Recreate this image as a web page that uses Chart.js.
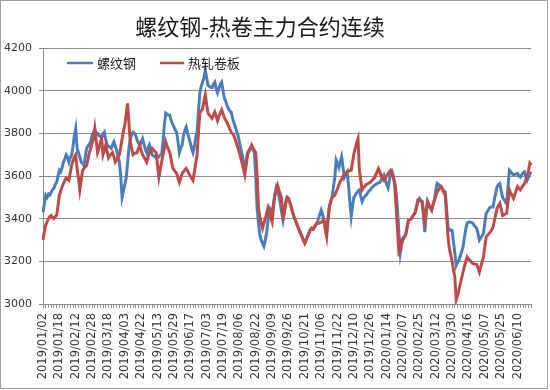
<!DOCTYPE html>
<html>
<head>
<meta charset="utf-8">
<script src="https://cdn.jsdelivr.net/npm/chart.js@4.4.1/dist/chart.umd.min.js"></script>
<style>
  body { margin: 0; background: #fff; }
  #wrap { width: 550px; height: 390px; }
</style>
</head>
<body>
<div id="wrap"><canvas id="steel-chart" width="550" height="390"></canvas></div>
<script>
  // 标题与图例
  const titleText = '螺纹钢-热卷主力合约连续';
  const seriesNames = ['螺纹钢', '热轧卷板'];

  // 交易日: 2019/01/02 - 2020/06/24, 除去周末和节假日
  const firstDay = '2019/01/02';
  const lastDay = '2020/06/24';
  const holidays = [
    '2019/01/01', '2019/02/04', '2019/02/05', '2019/02/06', '2019/02/07', '2019/02/08',
    '2019/04/05', '2019/05/01', '2019/05/02', '2019/05/03', '2019/06/07', '2019/09/13',
    '2019/10/01', '2019/10/02', '2019/10/03', '2019/10/04', '2019/10/07',
    '2020/01/01', '2020/01/24', '2020/01/27', '2020/01/28', '2020/01/29', '2020/01/30',
    '2020/01/31', '2020/04/06', '2020/05/01', '2020/05/04', '2020/05/05',
    '2020/06/25', '2020/06/26'
  ];

  // Y轴刻度
  const yTicks = [3000, 3200, 3400, 3600, 3800, 4000, 4200];
  // 每隔12个交易日显示一个日期
  const labelStep = 12;

  // 螺纹钢
  const rebar = [
    3430, 3470, 3510, 3500, 3515, 3510, 3525, 3535, 3543, 3560,
    3570, 3600, 3627, 3620, 3640, 3665, 3680, 3700, 3690, 3665,
    3685, 3700, 3740, 3790, 3823, 3730, 3710, 3690, 3665, 3660,
    3650, 3690, 3730, 3740, 3750, 3760, 3790, 3805, 3815, 3800,
    3800, 3790, 3785, 3780, 3795, 3805, 3770, 3745, 3740, 3735,
    3730, 3745, 3760, 3740, 3720, 3690, 3665, 3600, 3500, 3530,
    3560, 3590, 3660, 3730, 3770, 3795, 3805, 3800, 3790, 3770,
    3755, 3745, 3760, 3775, 3750, 3725, 3710, 3730, 3745, 3720,
    3700, 3695, 3690, 3685, 3685, 3690, 3700, 3700, 3760, 3840,
    3895, 3890, 3885, 3885, 3860, 3845, 3830, 3815, 3805, 3760,
    3710, 3730, 3745, 3790, 3815, 3830, 3800, 3780, 3755, 3730,
    3710, 3740, 3780, 3805, 3900, 3990, 4020, 4040, 4060, 4095,
    4060, 4025, 4020, 4015, 4015, 4030, 4040, 4010, 3990, 4010,
    4030, 4040, 4000, 3965, 3950, 3930, 3915, 3905, 3900, 3870,
    3850, 3830, 3810, 3790, 3760, 3730, 3700, 3665, 3635, 3670,
    3710, 3720, 3730, 3735, 3720, 3710, 3600, 3450, 3380, 3325,
    3300, 3285, 3270, 3300, 3335, 3390, 3450, 3440, 3430, 3470,
    3510, 3545, 3530, 3510, 3470, 3430, 3393, 3430, 3470, 3500,
    3495, 3475, 3455, 3430, 3410, 3395, 3375, 3360, 3345, 3330,
    3315, 3300, 3285, 3300, 3315, 3330, 3345, 3355, 3350, 3360,
    3370, 3380, 3400, 3420, 3440, 3420, 3393, 3360, 3340, 3400,
    3455, 3480, 3500, 3550, 3595, 3675, 3660, 3640, 3665, 3690,
    3640, 3595, 3610, 3620, 3560, 3480, 3410, 3460, 3500, 3510,
    3520, 3530, 3535, 3505, 3480, 3495, 3505, 3510, 3520, 3530,
    3535, 3545, 3550, 3557, 3560, 3565, 3568, 3570, 3580, 3595,
    3605, 3580, 3560, 3545, 3580, 3610, 3620, 3595, 3570, 3520,
    3440, 3330, 3240, 3280, 3300, 3310, 3325, 3360, 3393, 3395,
    3400, 3410, 3420, 3430, 3460, 3487, 3495, 3485, 3480, 3410,
    3337, 3420, 3480, 3465, 3450, 3440, 3465, 3487, 3530, 3565,
    3560, 3555, 3550, 3540, 3530, 3525, 3440, 3360, 3350, 3345,
    3345, 3290, 3240, 3180, 3195, 3205, 3225, 3245, 3267, 3310,
    3350, 3380, 3383, 3385, 3382, 3380, 3370, 3362, 3355, 3330,
    3300, 3310, 3320, 3330, 3380, 3425, 3435, 3445, 3455, 3455,
    3455, 3490, 3520, 3550, 3560, 3565, 3530, 3500, 3490, 3480,
    3470, 3550, 3627, 3620, 3612, 3605, 3608, 3610, 3612, 3600,
    3595, 3605, 3615, 3620, 3600, 3580, 3595, 3610, 3620
  ];

  // 热轧卷板
  const hotCoil = [
    3300, 3340, 3370, 3385, 3400, 3410, 3415, 3405, 3400, 3410,
    3415, 3460, 3510, 3530, 3550, 3565, 3580, 3590, 3585, 3580,
    3615, 3650, 3670, 3690, 3700, 3635, 3590, 3535, 3580, 3627,
    3635, 3642, 3650, 3680, 3710, 3730, 3755, 3775, 3823, 3765,
    3710, 3730, 3755, 3775, 3700, 3720, 3745, 3715, 3685, 3695,
    3703, 3710, 3690, 3665, 3675, 3690, 3700, 3735, 3775, 3810,
    3840, 3890, 3940, 3850, 3760, 3730, 3700, 3705, 3708, 3710,
    3728, 3745, 3720, 3700, 3690, 3678, 3665, 3688, 3710, 3720,
    3730, 3722, 3715, 3710, 3650, 3595, 3630, 3665, 3700, 3730,
    3760, 3740, 3725, 3710, 3675, 3640, 3630, 3620, 3612, 3590,
    3570, 3590, 3612, 3620, 3628, 3635, 3625, 3612, 3600, 3590,
    3580, 3620, 3660, 3700, 3800, 3895, 3905, 3915, 3950, 3980,
    3935, 3895, 3885, 3878, 3870, 3885, 3900, 3880, 3860, 3880,
    3895, 3910, 3892, 3875, 3862, 3850, 3835, 3820, 3805, 3798,
    3790, 3770, 3750, 3730, 3710, 3685, 3660, 3632, 3605, 3650,
    3700, 3715, 3730, 3745, 3730, 3720, 3710, 3600, 3450, 3410,
    3380, 3355, 3378, 3400, 3425, 3450, 3428, 3405, 3385, 3450,
    3510, 3535, 3557, 3535, 3515, 3495, 3393, 3440, 3475, 3500,
    3495, 3475, 3455, 3432, 3410, 3393, 3378, 3360, 3345, 3330,
    3315, 3298, 3285, 3300, 3318, 3335, 3350, 3355, 3350, 3362,
    3372, 3380, 3378, 3380, 3382, 3390, 3393, 3350, 3315, 3390,
    3455, 3480, 3500, 3505, 3510, 3525, 3540, 3560, 3575, 3585,
    3600, 3605, 3612, 3620, 3622, 3625, 3627, 3665, 3705, 3730,
    3755, 3775, 3627, 3580, 3535, 3545, 3552, 3560, 3563, 3567,
    3570, 3578, 3585, 3590, 3605, 3620, 3635, 3620, 3600, 3590,
    3580, 3590, 3600, 3610, 3620, 3627, 3615, 3590, 3550, 3450,
    3340, 3240, 3250, 3300, 3310, 3318, 3325, 3360, 3393, 3396,
    3400, 3410, 3420, 3430, 3458, 3487, 3485, 3482, 3480, 3435,
    3390, 3440, 3480, 3465, 3452, 3440, 3465, 3487, 3505, 3525,
    3535, 3545, 3550, 3535, 3520, 3510, 3410, 3315, 3260, 3230,
    3200, 3160, 3125, 3020, 3040, 3065, 3095, 3122, 3150, 3175,
    3198, 3220, 3212, 3205, 3198, 3190, 3188, 3186, 3185, 3168,
    3150, 3175, 3198, 3220, 3270, 3315, 3322, 3330, 3337, 3348,
    3360, 3390, 3420, 3450, 3462, 3472, 3445, 3415, 3418, 3422,
    3425, 3480, 3535, 3520, 3508, 3495, 3513, 3532, 3550, 3542,
    3535, 3545, 3555, 3565, 3580, 3595, 3625, 3660, 3650
  ];

  const colors = ['#4a7ebb', '#be4b48'];

  // 生成交易日列表
  function tradingDays(from, to) {
    const fmt = d => d.getUTCFullYear() + '/' +
      String(d.getUTCMonth() + 1).padStart(2, '0') + '/' +
      String(d.getUTCDate()).padStart(2, '0');
    const p = from.split('/').map(Number);
    const d = new Date(Date.UTC(p[0], p[1] - 1, p[2]));
    const out = [];
    while (fmt(d) <= to) {
      const wd = d.getUTCDay();
      const s = fmt(d);
      if (wd !== 0 && wd !== 6 && holidays.indexOf(s) < 0) out.push(s);
      d.setUTCDate(d.getUTCDate() + 1);
    }
    return out;
  }
  const dates = tradingDays(firstDay, lastDay);

  // 标题、图例、外框
  const overlay = {
    id: 'overlay',
    afterDraw(chart) {
      const ctx = chart.ctx;
      ctx.save();
      ctx.strokeStyle = '#a0a0a0';
      ctx.lineWidth = 1;
      ctx.strokeRect(0.5, 0.5, 547, 388);

      ctx.fillStyle = '#1a1a1a';
      ctx.textBaseline = 'middle';
      ctx.textAlign = 'center';
      ctx.font = '22px "Noto Sans CJK SC"';
      ctx.fillText(titleText, 260, 27);

      ctx.textAlign = 'left';
      ctx.font = '13px "Noto Sans CJK SC"';
      const items = [[67, 93, 97], [160, 184, 188]];
      items.forEach((it, i) => {
        ctx.strokeStyle = colors[i];
        ctx.lineWidth = 2.5;
        ctx.beginPath();
        ctx.moveTo(it[0], 63);
        ctx.lineTo(it[1], 63);
        ctx.stroke();
        ctx.fillStyle = '#1a1a1a';
        ctx.fillText(seriesNames[i], it[2], 63);
      });
      ctx.restore();
    }
  };

  const steelData = {
    labels: dates,
    datasets: [
      {
        label: seriesNames[0],
        data: rebar,
        borderColor: colors[0],
        borderWidth: 3,
        pointRadius: 0,
        tension: 0,
        fill: false,
        order: 1
      },
      {
        label: seriesNames[1],
        data: hotCoil,
        borderColor: colors[1],
        borderWidth: 3,
        pointRadius: 0,
        tension: 0,
        fill: false,
        order: 0
      }
    ]
  };

  const steelConfig = {
    type: 'line',
    data: steelData,
    plugins: [overlay],
    options: {
      responsive: false,
      devicePixelRatio: 1,
      animation: false,
      layout: { padding: { top: 48, right: 18, left: 0, bottom: 0 } },
      plugins: {
        legend: { display: false },
        title: { display: false },
        tooltip: { enabled: false }
      },
      scales: {
        x: {
          offset: false,
          grid: {
            drawOnChartArea: false,
            drawTicks: true,
            tickLength: 4,
            color: c => (c.index % 2 === 0 ? '#8c8c8c' : 'rgba(0,0,0,0)')
          },
          border: { color: '#8c8c8c' },
          ticks: {
            autoSkip: false,
            maxRotation: 90,
            minRotation: 90,
            padding: 5,
            color: '#333',
            font: { family: 'DejaVu Sans', size: 11.5 },
            callback: function (v, i) {
              return i % labelStep === 0 ? this.getLabelForValue(v) : '';
            }
          },
          afterFit: s => { s.height = 86; }
        },
        y: {
          min: yTicks[0],
          max: yTicks[yTicks.length - 1],
          afterBuildTicks: s => { s.ticks = yTicks.map(v => ({ value: v })); },
          grid: { color: '#8c8c8c', tickLength: 4 },
          border: { color: '#8c8c8c' },
          ticks: {
            padding: 7,
            color: '#333',
            font: { family: 'DejaVu Sans', size: 11 },
            callback: v => String(v)
          },
          afterFit: s => { s.width = 43; }
        }
      }
    }
  };

  const steelChart = new Chart(
    document.getElementById('steel-chart'),
    steelConfig
  );
</script>
</body>
</html>
